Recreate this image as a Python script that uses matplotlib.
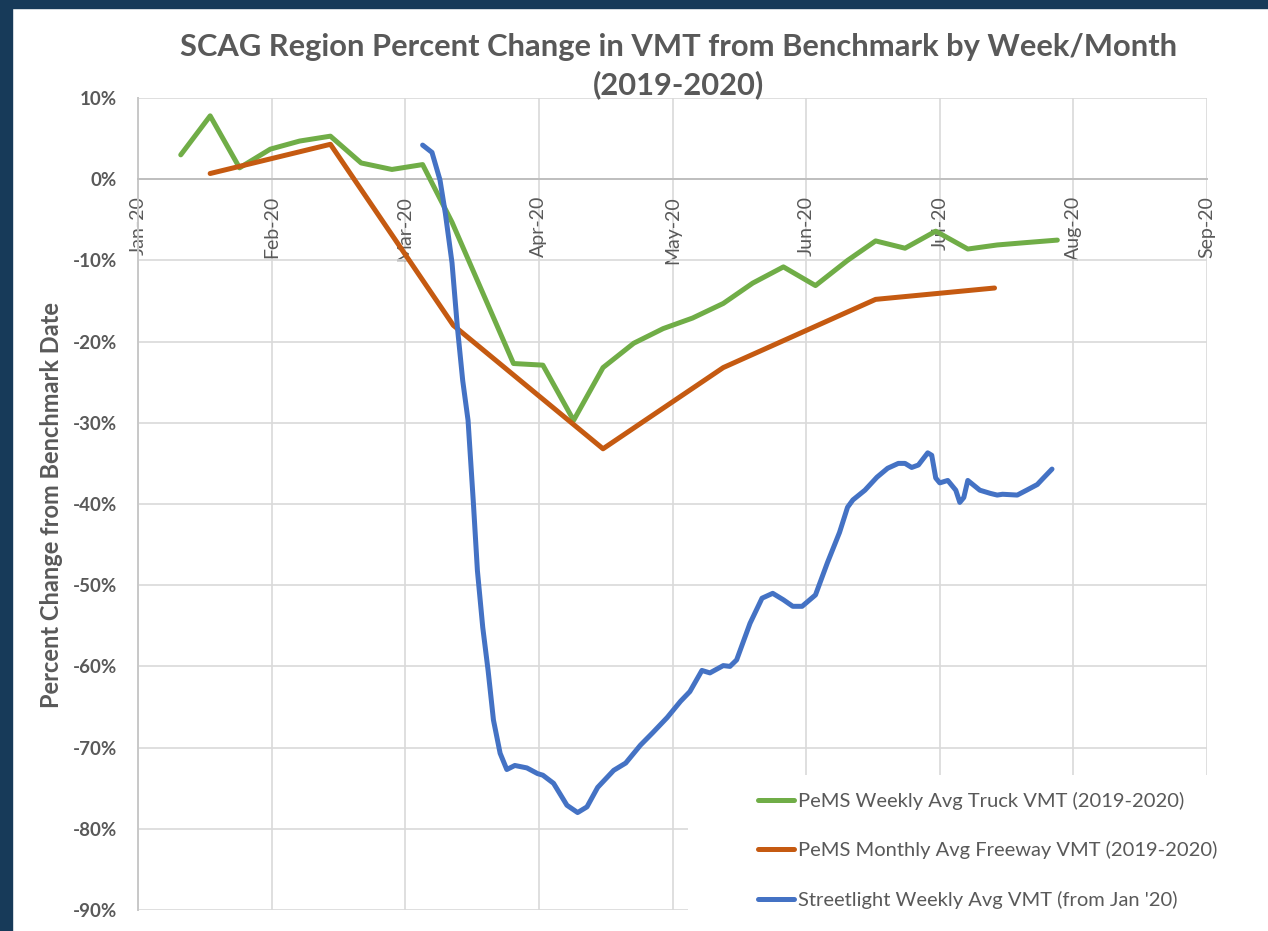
import matplotlib
matplotlib.use("Agg")
import matplotlib.pyplot as plt
from matplotlib.patches import Rectangle

# x positions are months since 1 Jan 2020 (0 = Jan-20, 1 = Feb-20, ...)
month_labels = ["Jan-20", "Feb-20", "Mar-20", "Apr-20", "May-20",
                "Jun-20", "Jul-20", "Aug-20", "Sep-20"]

truck_x = [0.32, 0.54, 0.76, 0.99, 1.21, 1.44, 1.67, 1.90, 2.13, 2.35,
           2.58, 2.81, 3.03, 3.26, 3.48, 3.71, 3.93, 4.15, 4.38, 4.60,
           4.83, 5.07, 5.31, 5.52, 5.74, 5.97, 6.21, 6.43, 6.65, 6.88]
truck_y = [3.0, 7.8, 1.4, 3.7, 4.7, 5.3, 2.0, 1.2, 1.8, -5.3,
           -14.0, -22.7, -22.9, -29.7, -23.2, -20.2, -18.4, -17.1, -15.3, -12.8,
           -10.8, -13.1, -10.0, -7.6, -8.5, -6.4, -8.6, -8.1, -7.8, -7.5]

freeway_x = [0.54, 1.44, 2.36, 3.48, 4.38, 5.52, 6.41]
freeway_y = [0.7, 4.3, -18.0, -33.2, -23.2, -14.8, -13.4]

street_x = [2.13, 2.20, 2.26, 2.30, 2.35, 2.39, 2.43, 2.47, 2.51, 2.54,
            2.58, 2.62, 2.66, 2.71, 2.76, 2.82, 2.91, 2.99, 3.03, 3.11,
            3.21, 3.29, 3.36, 3.44, 3.56, 3.65, 3.76, 3.85, 3.96, 4.06,
            4.13, 4.22, 4.28, 4.38, 4.43, 4.48, 4.58, 4.67, 4.75, 4.83,
            4.90, 4.97, 5.07, 5.16, 5.25, 5.31, 5.35, 5.44, 5.53, 5.61,
            5.69, 5.74, 5.79, 5.84, 5.91, 5.94, 5.97, 6.00, 6.06, 6.12,
            6.15, 6.18, 6.21, 6.30, 6.38, 6.43, 6.47, 6.58, 6.65, 6.73,
            6.77, 6.84]
street_y = [4.2, 3.3, -0.1, -4.2, -10.3, -18.2, -24.8, -29.7, -39.9, -48.2,
            -55.2, -60.5, -66.6, -70.7, -72.7, -72.2, -72.5, -73.2, -73.4, -74.4,
            -77.1, -78.0, -77.3, -74.9, -72.8, -71.9, -69.7, -68.2, -66.3, -64.3,
            -63.1, -60.5, -60.8, -59.9, -60.0, -59.2, -54.7, -51.6, -51.0, -51.8,
            -52.6, -52.6, -51.2, -47.2, -43.5, -40.4, -39.5, -38.3, -36.7, -35.6,
            -35.0, -35.0, -35.5, -35.2, -33.7, -34.0, -36.8, -37.4, -37.1, -38.3,
            -39.8, -39.2, -37.1, -38.3, -38.7, -38.9, -38.8, -38.9, -38.3, -37.6,
            -36.9, -35.7]

series_labels = ["PeMS Weekly Avg Truck VMT (2019-2020)",
                 "PeMS Monthly Avg Freeway VMT (2019-2020)",
                 "Streetlight Weekly Avg VMT (from Jan '20)"]

plt.rcParams['font.family'] = ['Lato', 'DejaVu Sans']
text_color = "#595959"

W, H = 1268, 931
fig = plt.figure(figsize=(W / 100, H / 100), dpi=100)
fig.patch.set_facecolor("white")

# navy frame on top and left
fig.patches.append(Rectangle((0, 0), 12 / W, 1, transform=fig.transFigure,
                             color="#173a59", zorder=0))
fig.patches.append(Rectangle((0, 1 - 8 / H), 1, 8 / H, transform=fig.transFigure,
                             color="#173a59", zorder=0))

ax = fig.add_axes([138 / W, 1 - 910 / H, (1207 - 138) / W, (910 - 98) / H])

# x axis crosses at 0%
for s in ["top", "right"]:
    ax.spines[s].set_visible(False)
ax.spines["bottom"].set_position(("data", 0))
ax.spines["bottom"].set_color("#bfbfbf")
ax.spines["bottom"].set_linewidth(1.4)
ax.spines["left"].set_color("#c8c8c8")
ax.spines["left"].set_linewidth(1.4)

lw = 3.6
ax.plot(truck_x, truck_y, color="#70ad47", lw=lw, solid_joinstyle="round",
        solid_capstyle="round", label=series_labels[0], zorder=3)
ax.plot(freeway_x, freeway_y, color="#c55a11", lw=lw, solid_joinstyle="round",
        solid_capstyle="round", label=series_labels[1], zorder=3)
ax.plot(street_x, street_y, color="#4472c4", lw=lw, solid_joinstyle="round",
        solid_capstyle="round", label=series_labels[2], zorder=3)

ax.set_xlim(0, 8)
ax.set_ylim(-90, 10)
ax.set_xticks(range(len(month_labels)))
ax.set_xticklabels(month_labels, rotation=90, fontsize=14, color=text_color)
yt = list(range(-90, 11, 10))
ax.set_yticks(yt)
ax.set_yticklabels([f"{v}%" for v in yt], fontsize=13.5, fontweight="bold",
                   color=text_color)
ax.tick_params(axis="x", length=0, pad=12)
ax.tick_params(axis="y", length=0, pad=15)

ax.set_axisbelow(True)
ax.grid(True, color="#d9d9d9", lw=1.2)

# white area behind the legend hides the gridlines
ax.add_patch(Rectangle((688 / W, 0), (W - 688) / W, (931 - 775) / H,
                       transform=fig.transFigure, facecolor="white",
                       edgecolor="none", clip_on=False, zorder=1.5))

leg = ax.legend(loc="upper left", bbox_to_anchor=(748 / W, 1 - 782 / H),
                bbox_transform=fig.transFigure, frameon=False, fontsize=14.5,
                handlelength=1.8, handletextpad=0.2, labelspacing=1.55,
                borderpad=0)
for t in leg.get_texts():
    t.set_color(text_color)

fig.text(679 / W, 1 - 33 / H,
         "SCAG Region Percent Change in VMT from Benchmark by Week/Month\n(2019-2020)",
         ha="center", va="top", fontsize=22.2, fontweight="bold", color=text_color,
         linespacing=1.4)
fig.text(52 / W, 1 - 505 / H, "Percent Change from Benchmark Date",
         rotation=90, ha="center", va="center", fontsize=17, fontweight="bold",
         color=text_color)

fig.savefig("out.png", dpi=100)
